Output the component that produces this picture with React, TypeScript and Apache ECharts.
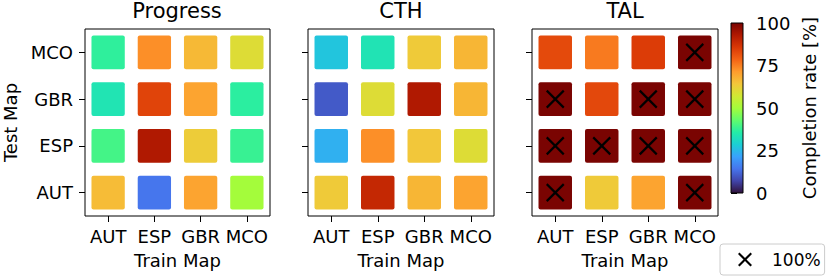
import React, { useEffect, useRef } from "react";
import * as echarts from "echarts";

const trainMaps = ["AUT", "ESP", "GBR", "MCO"];
const testMaps = ["AUT", "ESP", "GBR", "MCO"];
const panelTitles = ["Progress", "CTH", "TAL"];
// rows: test map (AUT, ESP, GBR, MCO); columns: train map (AUT, ESP, GBR, MCO)
const progressValues = [
  [66, 14.5, 70, 50],
  [39.5, 93, 63, 38],
  [33.7, 83.7, 70, 36.5],
  [37, 73, 66.5, 59.6],
];
const cthValues = [
  [63.5, 89.5, 67, 70],
  [23.6, 73, 64, 59.6],
  [10.3, 59.6, 93, 67],
  [27, 33.5, 63.5, 67],
];
const talValues = [
  [100, 63.5, 70, 100],
  [100, 100, 100, 100],
  [100, 83, 100, 100],
  [82.8, 75.6, 85, 100],
];
const colorbarMin = 0;
const colorbarMax = 100;
const colorbarStep = 25;
const markerLabel = "100%";
const turboColors = [
  "#30123b", "#4145ab", "#4675ed", "#39a2fc", "#1bcfd4", "#24eca6", "#61fc6c",
  "#a4fc3b", "#d1e834", "#f3c63a", "#fe9b2d", "#f36315", "#d93806", "#b11901", "#7a0402",
];

const FONT = "DejaVu Sans";
const panels = [progressValues, cthValues, talValues];

const toCells = (values: number[][]) =>
  values.flatMap((row, ti) => row.map((v, tr) => [tr, ti, v]));

const xIcon =
  "path://M0,1.5L1.5,0L7,5.5L12.5,0L14,1.5L8.5,7L14,12.5L12.5,14L7,8.5L1.5,14L0,12.5L5.5,7Z";

export default function App() {
  const ref = useRef<HTMLDivElement>(null);
  useEffect(() => {
    document.body.style.margin = "0";
    if (!ref.current) return;
    const chart = echarts.init(ref.current, null, { renderer: "svg" });
    const txt = { color: "#000", fontFamily: FONT, fontSize: 18 };

    const grids: any[] = panels.map((_, i) => ({
      left: 84 + i * 224,
      top: 29,
      width: 186,
      height: 187,
      show: true,
      borderColor: "#000",
      borderWidth: 1,
      backgroundColor: "transparent",
    }));
    grids.push({ left: 731, top: 23, width: 12, height: 170, show: false });

    const xAxes: any[] = panels.map((_, i) => ({
      type: "category",
      gridIndex: i,
      data: trainMaps,
      axisLine: { show: false },
      axisTick: { show: true, length: 6, alignWithLabel: true, interval: 0, lineStyle: { color: "#000", width: 1 } },
      axisLabel: { ...txt, margin: 11, interval: 0 },
      splitLine: { show: false },
      name: "Train Map",
      nameLocation: "middle",
      nameGap: 35,
      nameTextStyle: txt,
    }));
    xAxes.push({ type: "value", gridIndex: 3, min: 0, max: 1, show: false });

    const yAxes: any[] = panels.map((_, i) => ({
      type: "category",
      gridIndex: i,
      data: testMaps,
      axisLine: { show: false },
      axisTick: { show: true, length: 6, alignWithLabel: true, interval: 0, lineStyle: { color: "#000", width: 1 } },
      axisLabel: { ...txt, margin: 12, show: i === 0, interval: 0 },
      splitLine: { show: false },
      name: i === 0 ? "Test Map" : "",
      nameLocation: "middle",
      nameGap: 66,
      nameTextStyle: txt,
    }));
    yAxes.push({
      type: "value",
      gridIndex: 3,
      min: colorbarMin,
      max: colorbarMax,
      interval: colorbarStep,
      position: "right",
      axisLine: { show: false },
      axisTick: { show: true, length: 6, lineStyle: { color: "#000", width: 1 } },
      axisLabel: { ...txt, margin: 13 },
      splitLine: { show: false },
      name: "Completion rate [%]",
      nameLocation: "middle",
      nameRotate: 90,
      nameGap: 57,
      nameTextStyle: txt,
    });

    const heatSeries = panels.map((values, i) => ({
      type: "custom",
      xAxisIndex: i,
      yAxisIndex: i,
      data: toCells(values),
      encode: { x: 0, y: 1 },
      renderItem: (_p: any, api: any) => {
        const c = api.coord([api.value(0), api.value(1)]);
        const s = api.size([1, 1]);
        const w = s[0] * 0.72;
        const h = s[1] * 0.72;
        return {
          type: "rect",
          shape: { x: c[0] - w / 2, y: c[1] - h / 2, width: w, height: h, r: 2 },
          style: { fill: api.visual("color") },
        };
      },
    }));

    const markerSeries = {
      type: "custom",
      name: markerLabel,
      xAxisIndex: 2,
      yAxisIndex: 2,
      z: 5,
      itemStyle: { color: "#000" },
      data: toCells(talValues).filter((d) => d[2] >= 100),
      encode: { x: 0, y: 1 },
      renderItem: (_p: any, api: any) => {
        const c = api.coord([api.value(0), api.value(1)]);
        const r = 8.5;
        const style = { stroke: "#000", lineWidth: 2.2 };
        return {
          type: "group",
          children: [
            { type: "line", shape: { x1: c[0] - r, y1: c[1] - r, x2: c[0] + r, y2: c[1] + r }, style },
            { type: "line", shape: { x1: c[0] - r, y1: c[1] + r, x2: c[0] + r, y2: c[1] - r }, style },
          ],
        };
      },
    };

    const colorbarSeries = {
      type: "custom",
      xAxisIndex: 3,
      yAxisIndex: 3,
      silent: true,
      data: [[0, colorbarMin]],
      renderItem: (_p: any, api: any) => {
        const b = api.coord([0, colorbarMin]);
        const t = api.coord([1, colorbarMax]);
        return {
          type: "rect",
          shape: { x: b[0], y: t[1], width: t[0] - b[0], height: b[1] - t[1] },
          style: {
            fill: {
              type: "linear",
              x: 0, y: 1, x2: 0, y2: 0,
              colorStops: turboColors.map((c, i) => ({ offset: i / (turboColors.length - 1), color: c })),
            },
            stroke: "#000",
            lineWidth: 1,
          },
        };
      },
    };

    chart.setOption({
      animation: false,
      title: panelTitles.map((t, i) => ({
        text: t,
        left: 84 + i * 224 + 93,
        top: 0,
        padding: 0,
        textAlign: "center",
        textStyle: { color: "#000", fontFamily: FONT, fontSize: 21, fontWeight: "normal" },
      })),
      grid: grids,
      xAxis: xAxes,
      yAxis: yAxes,
      visualMap: {
        type: "continuous",
        show: false,
        min: colorbarMin,
        max: colorbarMax,
        dimension: 2,
        seriesIndex: [0, 1, 2],
        inRange: { color: turboColors },
      },
      legend: {
        data: [{ name: markerLabel, icon: xIcon }],
        left: 720,
        top: 244,
        padding: [7, 4, 7, 18],
        itemWidth: 14,
        itemHeight: 14,
        selectedMode: false,
        itemStyle: { color: "#000" },
        formatter: (name: string) => "{g| }{t|" + name + "}",
        textStyle: {
          ...txt,
          fontSize: 17,
          rich: {
            g: { width: 15, fontSize: 17 },
            t: { color: "#000", fontFamily: FONT, fontSize: 17 },
          },
        },
        borderColor: "#cccccc",
        borderWidth: 1,
        borderRadius: 3,
      },
      series: [...heatSeries, markerSeries, colorbarSeries],
    });
    return () => chart.dispose();
  }, []);
  return <div ref={ref} style={{ width: 830, height: 276 }} />;
}
